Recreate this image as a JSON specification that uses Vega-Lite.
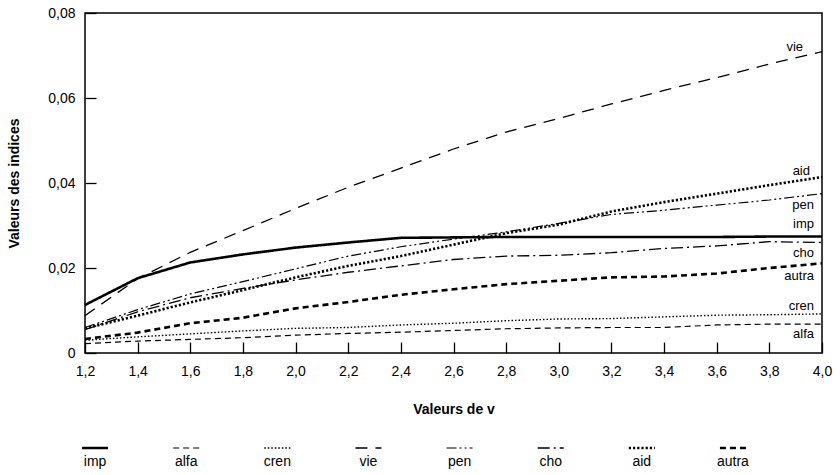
{
  "$schema": "https://vega.github.io/schema/vega-lite/v6.json",
  "background": "white",
  "padding": {"left": 7, "top": 5, "right": 5, "bottom": 5},
  "spacing": 24,
  "config": {
    "font": "Liberation Sans",
    "view": {"stroke": null},
    "axis": {
      "labelFont": "Liberation Sans",
      "labelFontSize": 14,
      "labelColor": "black",
      "titleFont": "Liberation Sans",
      "titleFontSize": 14,
      "titleFontWeight": "bold",
      "titleColor": "black",
      "grid": false
    }
  },
  "data": {
    "values": [
      {"series": "imp", "v": 1.2, "value": 0.0113}, {"series": "imp", "v": 1.4, "value": 0.0176}, {"series": "imp", "v": 1.6, "value": 0.0213}, {"series": "imp", "v": 1.8, "value": 0.0232}, {"series": "imp", "v": 2.0, "value": 0.0248}, {"series": "imp", "v": 2.2, "value": 0.026}, {"series": "imp", "v": 2.4, "value": 0.0271}, {"series": "imp", "v": 2.6, "value": 0.0272}, {"series": "imp", "v": 2.8, "value": 0.0273}, {"series": "imp", "v": 3.0, "value": 0.0273}, {"series": "imp", "v": 3.2, "value": 0.0273}, {"series": "imp", "v": 3.4, "value": 0.0273}, {"series": "imp", "v": 3.6, "value": 0.0273}, {"series": "imp", "v": 3.8, "value": 0.0274}, {"series": "imp", "v": 4.0, "value": 0.0274},
      {"series": "alfa", "v": 1.2, "value": 0.0022}, {"series": "alfa", "v": 1.4, "value": 0.0028}, {"series": "alfa", "v": 1.6, "value": 0.0032}, {"series": "alfa", "v": 1.8, "value": 0.0036}, {"series": "alfa", "v": 2.0, "value": 0.0042}, {"series": "alfa", "v": 2.2, "value": 0.0046}, {"series": "alfa", "v": 2.4, "value": 0.0049}, {"series": "alfa", "v": 2.6, "value": 0.0053}, {"series": "alfa", "v": 2.8, "value": 0.0057}, {"series": "alfa", "v": 3.0, "value": 0.0059}, {"series": "alfa", "v": 3.2, "value": 0.006}, {"series": "alfa", "v": 3.4, "value": 0.006}, {"series": "alfa", "v": 3.6, "value": 0.0066}, {"series": "alfa", "v": 3.8, "value": 0.0068}, {"series": "alfa", "v": 4.0, "value": 0.0068},
      {"series": "cren", "v": 1.2, "value": 0.003}, {"series": "cren", "v": 1.4, "value": 0.0038}, {"series": "cren", "v": 1.6, "value": 0.0045}, {"series": "cren", "v": 1.8, "value": 0.0052}, {"series": "cren", "v": 2.0, "value": 0.0058}, {"series": "cren", "v": 2.2, "value": 0.006}, {"series": "cren", "v": 2.4, "value": 0.0066}, {"series": "cren", "v": 2.6, "value": 0.007}, {"series": "cren", "v": 2.8, "value": 0.0076}, {"series": "cren", "v": 3.0, "value": 0.008}, {"series": "cren", "v": 3.2, "value": 0.0081}, {"series": "cren", "v": 3.4, "value": 0.0085}, {"series": "cren", "v": 3.6, "value": 0.0089}, {"series": "cren", "v": 3.8, "value": 0.009}, {"series": "cren", "v": 4.0, "value": 0.0092},
      {"series": "vie", "v": 1.2, "value": 0.0088}, {"series": "vie", "v": 1.4, "value": 0.0175}, {"series": "vie", "v": 1.6, "value": 0.0237}, {"series": "vie", "v": 1.8, "value": 0.0288}, {"series": "vie", "v": 2.0, "value": 0.034}, {"series": "vie", "v": 2.2, "value": 0.039}, {"series": "vie", "v": 2.4, "value": 0.0435}, {"series": "vie", "v": 2.6, "value": 0.048}, {"series": "vie", "v": 2.8, "value": 0.052}, {"series": "vie", "v": 3.0, "value": 0.0552}, {"series": "vie", "v": 3.2, "value": 0.0586}, {"series": "vie", "v": 3.4, "value": 0.0618}, {"series": "vie", "v": 3.6, "value": 0.0648}, {"series": "vie", "v": 3.8, "value": 0.068}, {"series": "vie", "v": 4.0, "value": 0.0709},
      {"series": "pen", "v": 1.2, "value": 0.006}, {"series": "pen", "v": 1.4, "value": 0.0102}, {"series": "pen", "v": 1.6, "value": 0.0139}, {"series": "pen", "v": 1.8, "value": 0.0168}, {"series": "pen", "v": 2.0, "value": 0.0198}, {"series": "pen", "v": 2.2, "value": 0.0228}, {"series": "pen", "v": 2.4, "value": 0.025}, {"series": "pen", "v": 2.6, "value": 0.0268}, {"series": "pen", "v": 2.8, "value": 0.0285}, {"series": "pen", "v": 3.0, "value": 0.0305}, {"series": "pen", "v": 3.2, "value": 0.0326}, {"series": "pen", "v": 3.4, "value": 0.0336}, {"series": "pen", "v": 3.6, "value": 0.0348}, {"series": "pen", "v": 3.8, "value": 0.036}, {"series": "pen", "v": 4.0, "value": 0.0375},
      {"series": "cho", "v": 1.2, "value": 0.0055}, {"series": "cho", "v": 1.4, "value": 0.0097}, {"series": "cho", "v": 1.6, "value": 0.013}, {"series": "cho", "v": 1.8, "value": 0.0152}, {"series": "cho", "v": 2.0, "value": 0.0172}, {"series": "cho", "v": 2.2, "value": 0.019}, {"series": "cho", "v": 2.4, "value": 0.0205}, {"series": "cho", "v": 2.6, "value": 0.022}, {"series": "cho", "v": 2.8, "value": 0.0228}, {"series": "cho", "v": 3.0, "value": 0.023}, {"series": "cho", "v": 3.2, "value": 0.0236}, {"series": "cho", "v": 3.4, "value": 0.0246}, {"series": "cho", "v": 3.6, "value": 0.0252}, {"series": "cho", "v": 3.8, "value": 0.0262}, {"series": "cho", "v": 4.0, "value": 0.026},
      {"series": "aid", "v": 1.2, "value": 0.0058}, {"series": "aid", "v": 1.4, "value": 0.0088}, {"series": "aid", "v": 1.6, "value": 0.0119}, {"series": "aid", "v": 1.8, "value": 0.0148}, {"series": "aid", "v": 2.0, "value": 0.0178}, {"series": "aid", "v": 2.2, "value": 0.0205}, {"series": "aid", "v": 2.4, "value": 0.0228}, {"series": "aid", "v": 2.6, "value": 0.0255}, {"series": "aid", "v": 2.8, "value": 0.0282}, {"series": "aid", "v": 3.0, "value": 0.0302}, {"series": "aid", "v": 3.2, "value": 0.0333}, {"series": "aid", "v": 3.4, "value": 0.0355}, {"series": "aid", "v": 3.6, "value": 0.0375}, {"series": "aid", "v": 3.8, "value": 0.0395}, {"series": "aid", "v": 4.0, "value": 0.0414},
      {"series": "autra", "v": 1.2, "value": 0.0033}, {"series": "autra", "v": 1.4, "value": 0.0048}, {"series": "autra", "v": 1.6, "value": 0.007}, {"series": "autra", "v": 1.8, "value": 0.0083}, {"series": "autra", "v": 2.0, "value": 0.0105}, {"series": "autra", "v": 2.2, "value": 0.012}, {"series": "autra", "v": 2.4, "value": 0.0137}, {"series": "autra", "v": 2.6, "value": 0.015}, {"series": "autra", "v": 2.8, "value": 0.0162}, {"series": "autra", "v": 3.0, "value": 0.017}, {"series": "autra", "v": 3.2, "value": 0.0178}, {"series": "autra", "v": 3.4, "value": 0.018}, {"series": "autra", "v": 3.6, "value": 0.0187}, {"series": "autra", "v": 3.8, "value": 0.02}, {"series": "autra", "v": 4.0, "value": 0.0211}
    ]
  },
  "vconcat": [
    {
      "width": 737,
      "height": 340,
      "view": {"stroke": "black", "strokeWidth": 1.5},
      "encoding": {
        "x": {
          "field": "v", "type": "quantitative",
          "scale": {"domain": [1.2, 4.0], "nice": false, "zero": false},
          "axis": {
            "title": "Valeurs de v",
            "domain": false,
            "ticks": true,
            "tickSize": 11,
            "tickColor": "black",
            "tickOpacity": 1,
            "tickDash": [],
            "tickWidth": 1.3,
            "offset": -11,
            "values": [1.2, 1.4, 1.6, 1.8, 2.0, 2.2, 2.4, 2.6, 2.8, 3.0, 3.2, 3.4, 3.6, 3.8, 4.0],
            "labelExpr": "replace(format(datum.value, '.1f'), '.', ',')",
            "labelPadding": 11,
            "titlePadding": 24,
            "labelFlush": false
          }
        },
        "y": {
          "field": "value", "type": "quantitative",
          "scale": {"domain": [0, 0.08], "nice": false},
          "axis": {
            "title": "Valeurs des indices",
            "domain": false,
            "ticks": true,
            "tickSize": 11,
            "tickColor": "black",
            "tickOpacity": 1,
            "tickDash": [],
            "tickWidth": 1.3,
            "offset": -11,
            "values": [0, 0.02, 0.04, 0.06, 0.08],
            "labelExpr": "datum.value == 0 ? '0' : replace(format(datum.value, '.2f'), '.', ',')",
            "labelPadding": 10,
            "titlePadding": 26,
            "labelFlush": false
          }
        }
      },
      "layer": [
        {
          "mark": {"type": "line", "color": "black", "strokeCap": "butt"},
          "encoding": {
            "detail": {"field": "series", "type": "nominal"},
            "strokeDash": {
              "field": "series", "type": "nominal", "legend": null,
              "scale": {
                "domain": ["imp", "alfa", "cren", "vie", "pen", "cho", "aid", "autra"],
                "range": [[1, 0], [6, 4], [1.5, 2], [12, 8], [10, 3, 2, 3, 2, 3], [12, 4, 2, 4], [2.2, 2], [6, 4]]
              }
            },
            "strokeWidth": {
              "field": "series", "type": "nominal", "legend": null,
              "scale": {
                "type": "ordinal",
                "domain": ["imp", "alfa", "cren", "vie", "pen", "cho", "aid", "autra"],
                "range": [2.6, 1.2, 1.4, 1.3, 1.2, 1.3, 2.6, 2.6]
              }
            }
          }
        },
        {
          "transform": [{"filter": "datum.v == 4"}],
          "mark": {
            "type": "text", "align": "right", "baseline": "middle",
            "fontSize": 13, "color": "black",
            "dx": {"expr": "datum.series == 'vie' ? -19 : (datum.series == 'aid' ? -12 : -8)"},
            "dy": {"expr": "({'vie': -5, 'aid': -6, 'pen': 11, 'imp': -13, 'cho': 10, 'autra': 13, 'cren': -8, 'alfa': 10})[datum.series]"}
          },
          "encoding": {
            "text": {"field": "series", "type": "nominal"}
          }
        }
      ]
    },
    {
      "width": 737,
      "height": 28,
      "transform": [{"filter": "datum.v == 4"}],
      "encoding": {
        "x": {
          "field": "series", "type": "nominal",
          "sort": ["imp", "alfa", "cren", "vie", "pen", "cho", "aid", "autra"],
          "axis": null,
          "scale": {"paddingInner": 0, "paddingOuter": 0, "range": [-35.5, 693.5]}
        }
      },
      "layer": [
        {
          "mark": {"type": "rule", "color": "black", "xOffset": -13, "x2Offset": 13, "strokeCap": "butt"},
          "encoding": {
            "x2": {"field": "series"},
            "y": {"datum": "sample", "type": "nominal", "scale": {"domain": ["sample", "label"]}, "axis": null},
            "strokeDash": {
              "field": "series", "type": "nominal", "legend": null,
              "scale": {
                "domain": ["imp", "alfa", "cren", "vie", "pen", "cho", "aid", "autra"],
                "range": [[1, 0], [6, 4], [1.5, 2], [12, 8], [10, 3, 2, 3, 2, 3], [12, 4, 2, 4], [2.2, 2], [6, 4]]
              }
            },
            "strokeWidth": {
              "field": "series", "type": "nominal", "legend": null,
              "scale": {
                "type": "ordinal",
                "domain": ["imp", "alfa", "cren", "vie", "pen", "cho", "aid", "autra"],
                "range": [2.6, 1.2, 1.4, 1.3, 1.2, 1.3, 2.6, 2.6]
              }
            }
          }
        },
        {
          "mark": {"type": "text", "fontSize": 14, "color": "black", "baseline": "middle"},
          "encoding": {
            "y": {"datum": "label", "type": "nominal", "axis": null},
            "text": {"field": "series", "type": "nominal"}
          }
        }
      ]
    }
  ]
}
